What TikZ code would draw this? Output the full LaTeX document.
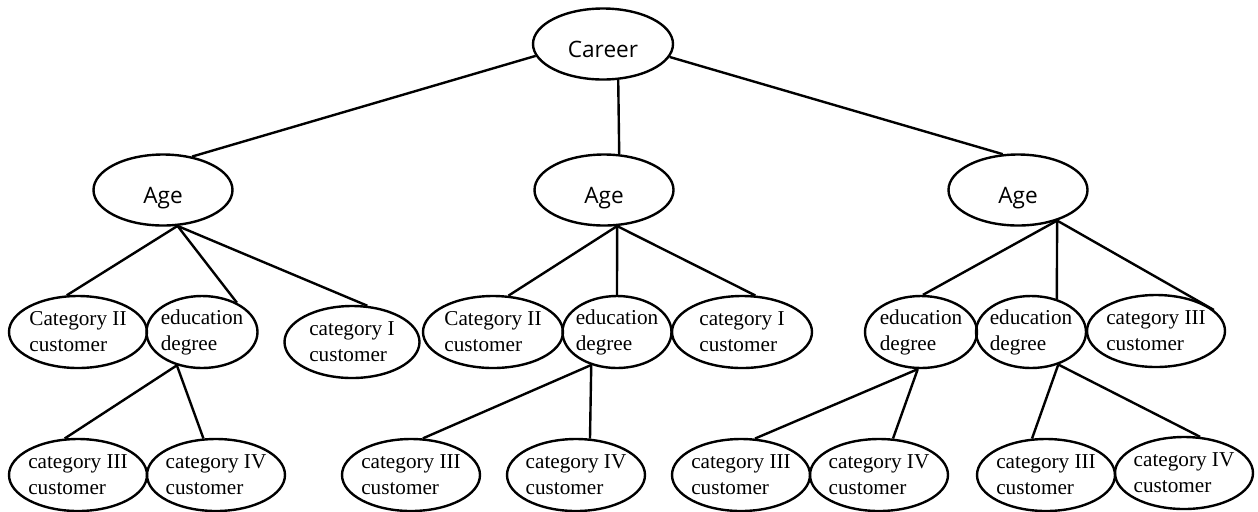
\documentclass[tikz,border=0pt]{standalone}
\usepackage{fontspec}
\setmainfont{Liberation Serif}
\newfontfamily\sansfuente{Open Sans}
\usetikzlibrary{shapes.geometric}

\begin{document}
\begin{tikzpicture}[x=0.5pt,y=-0.5pt,line width=1.2pt,
  raiz/.style={ellipse,draw,minimum width=69.5pt,minimum height=35.5pt,
    text height=13pt,text depth=0pt,
    font=\sansfuente\fontsize{11.3}{13}\selectfont},
  hoja/.style={ellipse,draw,inner xsep=-4pt,inner ysep=0pt,align=left,
    minimum width=69pt,minimum height=36pt,font=\fontsize{10.6}{13}\selectfont},
  edu/.style={hoja,minimum width=55.5pt}]
% Fijamos el tamano del dibujo (en pixeles de la imagen original).
\useasboundingbox (0,0) rectangle (1258,511);

% Raiz y primer nivel
\node[raiz,minimum width=70pt] (career) at (603,44) {Career};
\node[raiz] (ageA) at (163,190) {Age};
\node[raiz] (ageB) at (604,190) {Age};
\node[raiz] (ageC) at (1018,190) {Age};

% Segundo nivel: hojas y nodos "education degree"
\node[hoja] (catIIa) at (78,332) {Category II\\customer};
\node[edu] (eduA) at (202,332) {education\\degree};
\node[hoja,minimum width=67.5pt] (catIa) at (352,342) {category I\\customer};
\node[hoja,minimum width=70pt] (catIIb) at (493,332) {Category II\\customer};
\node[edu,minimum width=54.5pt] (eduB) at (617,332) {education\\degree};
\node[hoja,minimum width=70pt] (catIb) at (742,332) {category I\\customer};
\node[edu,minimum width=56pt] (eduC) at (921,332) {education\\degree};
\node[edu,minimum width=55pt] (eduD) at (1031,332) {education\\degree};
\node[hoja] (catIIIc) at (1156,331) {category III\\customer};

% Tercer nivel
\node[hoja] (catIIIa) at (78,475) {category III\\customer};
\node[hoja] (catIVa) at (216,475) {category IV\\customer};
\node[hoja] (catIIIb) at (411,475) {category III\\customer};
\node[hoja] (catIVb) at (576,475) {category IV\\customer};
\node[hoja] (catIIId) at (741,475) {category III\\customer};
\node[hoja] (catIVd) at (879,475) {category IV\\customer};
\node[hoja] (catIIIe) at (1046,475) {category III\\customer};
\node[hoja] (catIVe) at (1184,473) {category IV\\customer};

% Conexiones: usamos anclas por angulo para que las lineas salgan donde en el original.
\draw (career.190) -- (ageA.49);
\draw (career.293) -- (ageB.67);
\draw (career.349) -- (ageC.113);

\draw (ageA.292) -- (catIIa.107);
\draw (ageA.292) -- (eduA.40);
\draw (ageA.292) -- (catIa.67);
\draw (eduA.233) -- (catIIIa.110);
\draw (eduA.233) -- (catIVa.109);

\draw (ageB.290) -- (catIIb.67);
\draw (ageB.290) -- (eduB.north);
\draw (ageB.290) -- (catIb.70);
\draw (eduB.232) -- (catIIIb.72);
\draw (eduB.232) -- (catIVb.69);

\draw (ageC.322) -- (eduC.87);
\draw (ageC.322) -- (eduD.52);
\draw (ageC.322) -- (catIIIc.20);
\draw (eduC.265) -- (catIIId.69);
\draw (eduC.265) -- (catIVd.69);
\draw (eduD.310) -- (catIIIe.111);
\draw (eduD.310) -- (catIVe.66);
\end{tikzpicture}
\end{document}
